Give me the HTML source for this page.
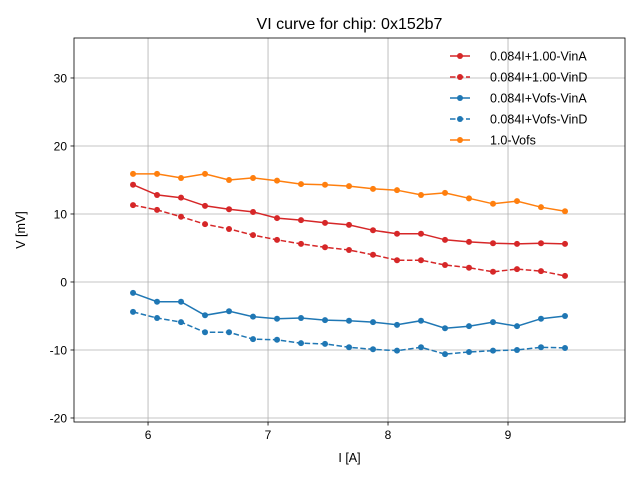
<!DOCTYPE html>
<html><head><meta charset="utf-8"><style>
body{margin:0;background:#fff;}
svg text{font-family:"Liberation Sans","DejaVu Sans",sans-serif;}
</style></head><body>
<svg id="chart" width="640" height="480" xmlns="http://www.w3.org/2000/svg"></svg>
<script>
const currents = [5.875,6.075,6.275,6.475,6.675,6.875,7.075,7.275,7.475,7.675,7.875,8.075,8.275,8.475,8.675,8.875,9.075,9.275,9.475];
const seriesNames = ["0.084I+1.00-VinA","0.084I+1.00-VinD","0.084I+Vofs-VinA","0.084I+Vofs-VinD","1.0-Vofs"];
const redSolid = [14.3,12.8,12.4,11.2,10.7,10.3,9.4,9.1,8.7,8.4,7.6,7.1,7.1,6.2,5.9,5.7,5.6,5.7,5.6];
const redDashed = [11.3,10.6,9.6,8.5,7.8,6.9,6.2,5.6,5.1,4.7,4.0,3.2,3.2,2.5,2.1,1.5,1.9,1.6,0.9];
const blueSolid = [-1.6,-2.9,-2.9,-4.9,-4.3,-5.1,-5.4,-5.3,-5.6,-5.7,-5.9,-6.3,-5.7,-6.8,-6.5,-5.9,-6.5,-5.4,-5.0];
const blueDashed = [-4.4,-5.3,-5.9,-7.4,-7.4,-8.4,-8.5,-9.0,-9.1,-9.6,-9.9,-10.1,-9.6,-10.6,-10.3,-10.1,-10.0,-9.6,-9.7];
const orange = [15.9,15.9,15.3,15.9,15.0,15.3,14.9,14.4,14.3,14.1,13.7,13.5,12.8,13.1,12.3,11.5,11.9,11.0,10.4];
const xTicks = [6,7,8,9];
const yTicks = [-20,-10,0,10,20,30];

const L=74,R=625,T=38,B=422;
const xMin=5.383,xMax=9.975,yMin=-20.59,yMax=35.88;
const xs=v=>L+(v-xMin)/(xMax-xMin)*(R-L);
const ys=v=>B-(v-yMin)/(yMax-yMin)*(B-T);
const svg=document.getElementById('chart');
const NS="http://www.w3.org/2000/svg";
function mk(tag,attrs,parent){const e=document.createElementNS(NS,tag);for(const k in attrs)e.setAttribute(k,attrs[k]);(parent||svg).appendChild(e);return e;}

for(const t of xTicks){
  const g=mk('line',{x1:xs(t),x2:xs(t),y1:T,y2:B,stroke:'#b0b0b0','stroke-width':0.8});
  
  
  mk('line',{x1:xs(t),x2:xs(t),y1:B,y2:B+3.5,stroke:'#000','stroke-width':0.8});
  const tx=mk('text',{x:xs(t),y:B+17,'text-anchor':'middle','font-size':12});tx.textContent=t;
  
  
}
for(const t of yTicks){
  const g=mk('line',{x1:L,x2:R,y1:ys(t),y2:ys(t),stroke:'#b0b0b0','stroke-width':0.8});
  
  
  mk('line',{x1:L-3.5,x2:L,y1:ys(t),y2:ys(t),stroke:'#000','stroke-width':0.8});
  const tx=mk('text',{x:L-7,y:ys(t)+4.5,'text-anchor':'end','font-size':12});tx.textContent=t;
  
  
}
const colors=['#d62728','#d62728','#1f77b4','#1f77b4','#ff7f0e'];
const dashes=[null,'5.5,2.5',null,'5.5,2.5',null];
const data=[redSolid,redDashed,blueSolid,blueDashed,orange];
data.forEach((vals,i)=>{
  const pts=vals.map((v,j)=>xs(currents[j]).toFixed(1)+','+ys(v).toFixed(1)).join(' ');
  const a={points:pts,fill:'none',stroke:colors[i],'stroke-width':1.5};
  if(dashes[i])a['stroke-dasharray']=dashes[i];
  const pl=mk('polyline',a);
  
  
  vals.forEach((v,j)=>{
    const c=mk('circle',{cx:xs(currents[j]),cy:ys(v),r:3,fill:colors[i]});
    
    
  });
  const ly=56+i*21;
  const ll=mk('line',{x1:450,x2:470,y1:ly,y2:ly,stroke:colors[i],'stroke-width':1.5});
  if(dashes[i])ll.setAttribute('stroke-dasharray',dashes[i]);
  
  
  mk('circle',{cx:460,cy:ly,r:3,fill:colors[i]});
  const lt=mk('text',{x:490,y:ly+4.5,'font-size':12.5});lt.textContent=seriesNames[i];
  
  
});
const fr=mk('rect',{x:L,y:T,width:R-L,height:B-T,fill:'none',stroke:'#000','stroke-width':0.8});


const title=mk('text',{x:(L+R)/2,y:29,'text-anchor':'middle','font-size':16});title.textContent='VI curve for chip: 0x152b7';


const xt=mk('text',{x:(L+R)/2,y:462,'text-anchor':'middle','font-size':12.5});xt.textContent='I [A]';


const yt=mk('text',{x:0,y:0,'text-anchor':'middle','font-size':12.5,transform:'translate(25,230) rotate(-90)'});yt.textContent='V [mV]';


</script>
</body></html>
